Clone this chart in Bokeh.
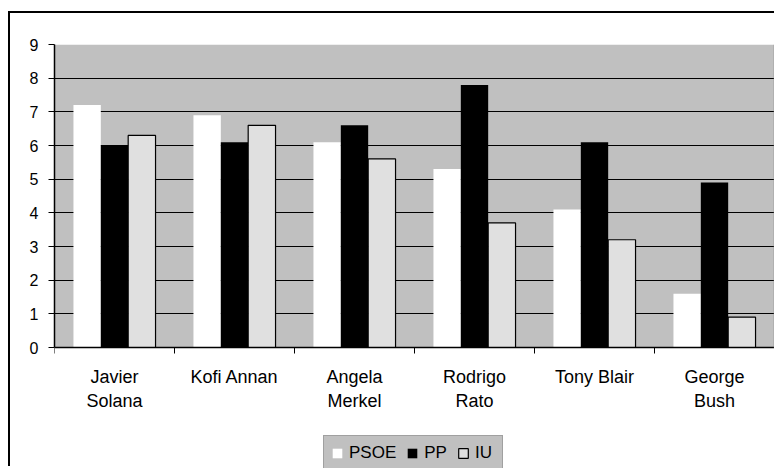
from bokeh.plotting import figure
from bokeh.models import (Range1d, FixedTicker, Legend, LegendItem, ColumnDataSource,
                          BoxAnnotation, Grid, LinearAxis)
from bokeh.embed import file_html
from bokeh.resources import INLINE

names = ["Javier\nSolana", "Kofi Annan", "Angela\nMerkel", "Rodrigo\nRato", "Tony Blair", "George\nBush"]
series = ["PSOE", "PP", "IU"]
psoe = [7.2, 6.9, 6.1, 5.3, 4.1, 1.6]
pp = [6.0, 6.1, 6.6, 7.8, 6.1, 4.9]
iu = [6.3, 6.6, 5.6, 3.7, 3.2, 0.9]
y_ticks = [0, 1, 2, 3, 4, 5, 6, 7, 8, 9]

FONT = "Liberation Sans"
Y_MAX = 9
# the frame reaches down to the legend; the value axis stops at 0
Y_BOTTOM = -3.594

p = figure(width=766, height=455, output_backend="svg", toolbar_location=None,
           x_range=Range1d(0, len(names)), y_range=Range1d(Y_BOTTOM, Y_MAX),
           min_border_left=44, min_border_top=31, min_border_right=2, min_border_bottom=0)
p.styles = {"border-left": "2px solid black", "border-top": "2px solid black",
            "margin-top": "11px", "margin-left": "8px"}

p.background_fill_color = "white"
p.border_fill_color = "white"
p.outline_line_color = None

# grey plot area between 0 and the top of the value axis
p.add_layout(BoxAnnotation(bottom=0, top=Y_MAX, fill_color="#c0c0c0", fill_alpha=1,
                           line_color=None, level="image"))

centers = [i + 0.5 for i in range(len(names))]
offsets = [-0.228, 0.0, 0.228]
width = 0.228
styles = [
    dict(fill_color="white", line_color=None),
    dict(fill_color="black", line_color=None),
    dict(fill_color="#e0e0e0", line_color="black", line_width=1.2),
]
renderers = []
for vals, off, st in zip([psoe, pp, iu], offsets, styles):
    src = ColumnDataSource(dict(x=[c + off for c in centers], top=vals))
    r = p.vbar(x="x", top="top", width=width, source=src, **st)
    renderers.append(r)

# category axis at value 0
xa = p.xaxis[0]
xa.fixed_location = 0
xa.ticker = FixedTicker(ticks=centers, minor_ticks=list(range(len(names) + 1)))
xa.major_label_overrides = {c: n for c, n in zip(centers, names)}
xa.major_tick_out = 0
xa.major_tick_in = 0
xa.minor_tick_out = 6
xa.minor_tick_in = 0
xa.minor_tick_line_color = "black"
xa.major_label_text_font = FONT
xa.major_label_text_font_size = "18px"
xa.major_label_text_color = "black"
xa.major_label_text_line_height = 1.2
xa.major_label_standoff = 13
xa.axis_line_color = "black"
xa.axis_line_width = 1.5

ya = p.yaxis[0]
ya.bounds = (0, Y_MAX)
ya.ticker = FixedTicker(ticks=y_ticks)
ya.major_tick_out = 6
ya.major_tick_in = 0
ya.minor_tick_line_color = None
ya.major_tick_line_color = "black"
ya.major_label_text_font = FONT
ya.major_label_text_font_size = "16px"
ya.major_label_text_color = "black"
ya.major_label_standoff = 10
ya.axis_line_color = "black"
ya.axis_line_width = 1.5

p.xgrid.grid_line_color = None
p.ygrid.ticker = FixedTicker(ticks=y_ticks[1:-1])
p.ygrid.grid_line_color = "black"
p.ygrid.grid_line_width = 1

# grey plot-area border: top line at 9 and right edge
p.add_layout(Grid(dimension=1, ticker=FixedTicker(ticks=[Y_MAX]), grid_line_color="#808080",
                  grid_line_width=1.5))
right_edge = LinearAxis(fixed_location=len(names), bounds=(0, Y_MAX), ticker=FixedTicker(ticks=[]),
                        axis_line_color="#808080", axis_line_width=1.5,
                        major_tick_line_color=None, minor_tick_line_color=None,
                        major_label_text_font_size="0px")
p.add_layout(right_edge, "right")

legend = Legend(items=[LegendItem(label=s, renderers=[r]) for s, r in zip(series, renderers)],
                orientation="horizontal", location=(269, -3))
legend.background_fill_color = "#c0c0c0"
legend.background_fill_alpha = 1
legend.border_line_color = "#808080"
legend.border_line_width = 1
legend.label_text_font = FONT
legend.label_text_font_size = "17px"
legend.label_text_color = "black"
legend.glyph_width = 12
legend.glyph_height = 12
legend.label_standoff = 6
legend.spacing = 10
legend.padding = 7
legend.margin = 0
legend.label_height = 18
p.add_layout(legend, "center")

open("out.html", "w").write(file_html(p, INLINE))
